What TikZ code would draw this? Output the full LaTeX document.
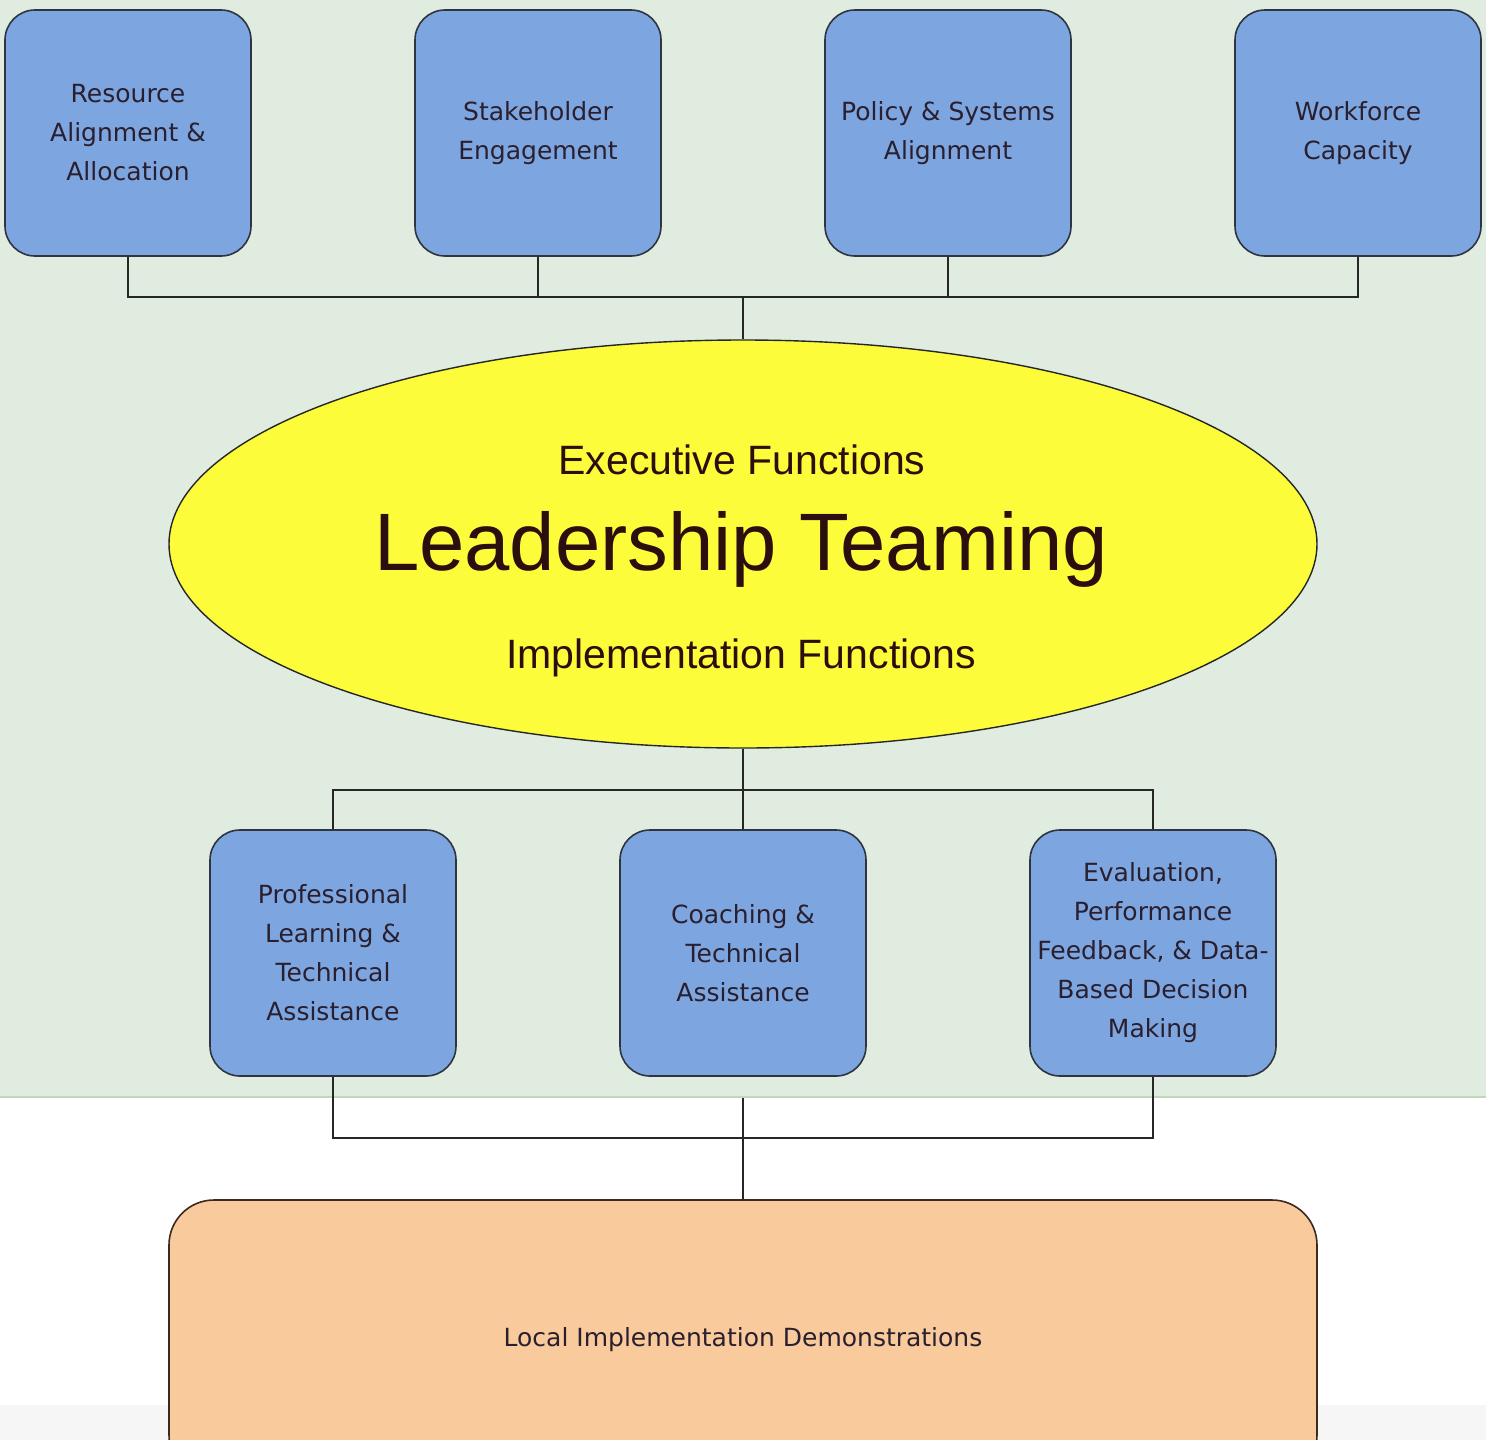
\documentclass[tikz,border=0pt]{standalone}
\usepackage{fontspec}
\setmainfont{DejaVu Sans}
\newfontfamily\arialf{Liberation Sans}
\usetikzlibrary{shapes.geometric}
\definecolor{bggreen}{HTML}{E1ECE0}
\definecolor{bgline}{HTML}{C3D6B5}
\definecolor{boxblue}{HTML}{7DA5DF}
\definecolor{boxline}{HTML}{2E3440}
\definecolor{txtc}{HTML}{2A1F2E}
\definecolor{elyellow}{HTML}{FDFC3B}
\definecolor{eltxt}{HTML}{2B0F0F}
\definecolor{orangef}{HTML}{F9CB9C}
\definecolor{orangeline}{HTML}{3A2A20}
\definecolor{connc}{HTML}{262626}
\definecolor{strip}{HTML}{F6F6F6}
\begin{document}
\begin{tikzpicture}[x=1pt,y=-1pt,
  bluebox/.style={draw=boxline, line width=1.6pt, fill=boxblue, rounded corners=30pt,
    minimum width=246pt, minimum height=246pt, align=center, inner sep=0pt,
    font=\fontsize{25}{39}\selectfont, text=txtc},
  conn/.style={draw=connc, line width=2pt},
  eltext/.style={text=eltxt, inner sep=0pt}]
\useasboundingbox (0,0) rectangle (1486,1440);
\clip (0,0) rectangle (1486,1440);
% background
\fill[bggreen] (0,0) rectangle (1486,1097);
\draw[bgline, line width=1.2pt] (0,1097) -- (1486,1097);
\fill[strip] (0,1405) rectangle (1486,1440);

% top boxes
\node[bluebox] (r1) at (128,133) {Resource\\Alignment \&\\Allocation};
\node[bluebox] (r2) at (538,133) {Stakeholder\\Engagement};
\node[bluebox] (r3) at (948,133) {Policy \& Systems\\Alignment};
\node[bluebox] (r4) at (1358,133) {Workforce\\Capacity};

% ellipse
\node[ellipse, draw=connc, line width=1.4pt, fill=elyellow, minimum width=1148pt,
  minimum height=408pt, inner sep=0pt] (el) at (743,544) {};
\node[eltext, font=\arialf\fontsize{41}{41}\selectfont] (ef) at (742,460) {Executive Functions};
\node[eltext, font=\arialf\fontsize{81.5}{81.5}\selectfont] (lt) at (741,549) {Leadership Teaming};
\node[eltext, font=\arialf\fontsize{41}{41}\selectfont] (imf) at (741,658) {Implementation Functions};

% bottom boxes
\node[bluebox] (b1) at (333,953) {Professional\\Learning \&\\Technical\\Assistance};
\node[bluebox] (b2) at (743,953) {Coaching \&\\Technical\\Assistance};
\node[bluebox] (b3) at (1153,953) {Evaluation,\\Performance\\Feedback, \& Data-\\Based Decision\\Making};

% orange box
\node[draw=orangeline, line width=1.6pt, fill=orangef, rounded corners=45pt,
  minimum width=1148pt, minimum height=280pt, inner sep=0pt, text=txtc,
  font=\fontsize{25}{30}\selectfont] (lo) at (743,1340) {Local Implementation Demonstrations};

% connectors
\coordinate (tj) at (743,297);
\draw[conn] (r1.south) |- (tj) -| (r4.south);
\draw[conn] (r2.south) -- (r2.south |- tj);
\draw[conn] (r3.south) -- (r3.south |- tj);
\draw[conn] (tj) -- (el.north);

\coordinate (bj) at (743,790);
\draw[conn] (el.south) -- (bj);
\draw[conn] (b1.north) |- (bj) -| (b3.north);
\draw[conn] (b2.north) -- (b2.north |- bj);

\coordinate (lj) at (743,1138);
\coordinate (gp) at (743,1098);
\draw[conn] (b1.south) |- (lj) -| (b3.south);
\draw[conn] (gp) -- (lo.north);
\end{tikzpicture}
\end{document}
